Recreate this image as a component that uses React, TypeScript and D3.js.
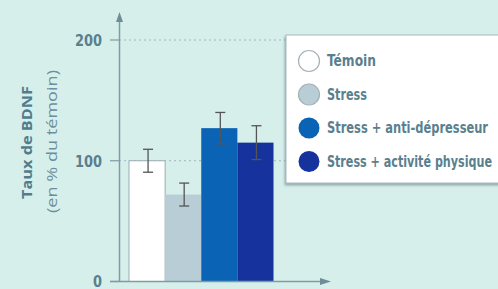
import React from "react";
import * as d3 from "d3";

const categories = ["Témoin", "Stress", "Stress + anti-dépresseur", "Stress + activité physique"];
const values = [100, 72, 127, 115];
const errors = [9.5, 9.5, 13, 14];
const colors = ["#ffffff", "#b8cdd5", "#0b63b5", "#16329c"];
const yTicks = [0, 100, 200];

const W = 498;
const H = 289;
const textColor = "#5a7f8e";
const font = "'Liberation Sans Narrow', 'DejaVu Sans Condensed', 'Roboto', sans-serif";

export default function App() {
  const y = d3.scaleLinear().domain([0, 200]).range([281.5, 40]);
  const x = d3.scaleBand().domain(categories).range([129, 273.5]).padding(0);
  const legendWidths = [49, 40, 161, 165];
  const tickWidths = [9, 27, 27];

  return (
    <svg width={W} height={H} style={{ position: "absolute", left: 0, top: 0 }}>
      <defs>
        <filter id="sh" x="-10%" y="-10%" width="130%" height="130%">
          <feDropShadow dx="-1" dy="2" stdDeviation="1" floodColor="#6a7f86" floodOpacity="0.6" />
        </filter>
      </defs>
      <rect x={0} y={0} width={W} height={H} fill="#d6efeb" />
      {yTicks.filter((t) => t > 0).map((t) => (
        <line key={t} x1={119} x2={290} y1={y(t)} y2={y(t)} stroke="#9fb6bb" strokeWidth={1} strokeDasharray="2,3" />
      ))}
      {categories.map((c, i) => (
        <rect
          key={c}
          x={x(c)!}
          y={y(values[i])}
          width={x.bandwidth()}
          height={y(0) - y(values[i])}
          fill={colors[i]}
          stroke={i === 0 ? "#9aacb2" : "none"}
          strokeWidth={1}
        />
      ))}
      {categories.map((c, i) => {
        const cx = x(c)! + x.bandwidth() / 2 + 1;
        const top = y(values[i] + errors[i]);
        const bot = y(values[i] - errors[i]);
        return (
          <g key={c} stroke="#555" strokeWidth={1.3}>
            <line x1={cx} x2={cx} y1={top} y2={bot} />
            <line x1={cx - 5} x2={cx + 5} y1={top} y2={top} />
            <line x1={cx - 5} x2={cx + 5} y1={bot} y2={bot} />
          </g>
        );
      })}
      <line x1={119.5} x2={119.5} y1={y(0)} y2={20} stroke="#7f9ba3" strokeWidth={1.5} />
      <path d="M119.5,12 L116,22 L123,22 Z" fill="#6f8d96" />
      <line x1={110} x2={322} y1={y(0)} y2={y(0)} stroke="#7f9ba3" strokeWidth={1.5} />
      <path d="M331,281.5 L320,278 L320,285 Z" fill="#6f8d96" />
      {yTicks.map((t, i) => (
        <g key={t}>
          <line x1={110} x2={119} y1={y(t)} y2={y(t)} stroke="#7f9ba3" strokeWidth={1.2} />
          <text
            x={102 - tickWidths[i]}
            y={y(t)}
            dy="0.36em"
            fontFamily={font}
            fontSize={16}
            fontWeight="bold"
            fill={textColor}
            textLength={tickWidths[i]}
            lengthAdjust="spacingAndGlyphs"
          >
            {t}
          </text>
        </g>
      ))}
      <text
        transform="translate(32,143) rotate(-90)"
        x={-56}
        fontFamily="'Open Sans', sans-serif"
        fontWeight="bold"
        fontSize={15}
        fill="#4f7d8f"
        textLength={113}
        lengthAdjust="spacingAndGlyphs"
      >
        Taux de BDNF
      </text>
      <text
        transform="translate(57,141) rotate(-90)"
        x={-72}
        fontFamily="'Open Sans', sans-serif"
        fontSize={15}
        fill="#6b8f9c"
        textLength={143}
        lengthAdjust="spacingAndGlyphs"
      >
        (en % du témoin)
      </text>
      <rect x={286} y={35} width={230} height={148} fill="#ffffff" stroke="#a9b8bc" strokeWidth={1} filter="url(#sh)" />
      {categories.map((c, i) => {
        const cy = 61 + i * 33.5;
        return (
          <g key={c}>
            <circle cx={309} cy={cy} r={10.5} fill={colors[i]} stroke={i < 2 ? "#a4b2b6" : "none"} strokeWidth={1.2} />
            <text
              x={327}
              y={cy}
              dy="0.35em"
              fontFamily={font}
              fontSize={15}
              fontWeight="bold"
              fill={textColor}
              textLength={legendWidths[i]}
              lengthAdjust="spacingAndGlyphs"
            >
              {c}
            </text>
          </g>
        );
      })}
    </svg>
  );
}
